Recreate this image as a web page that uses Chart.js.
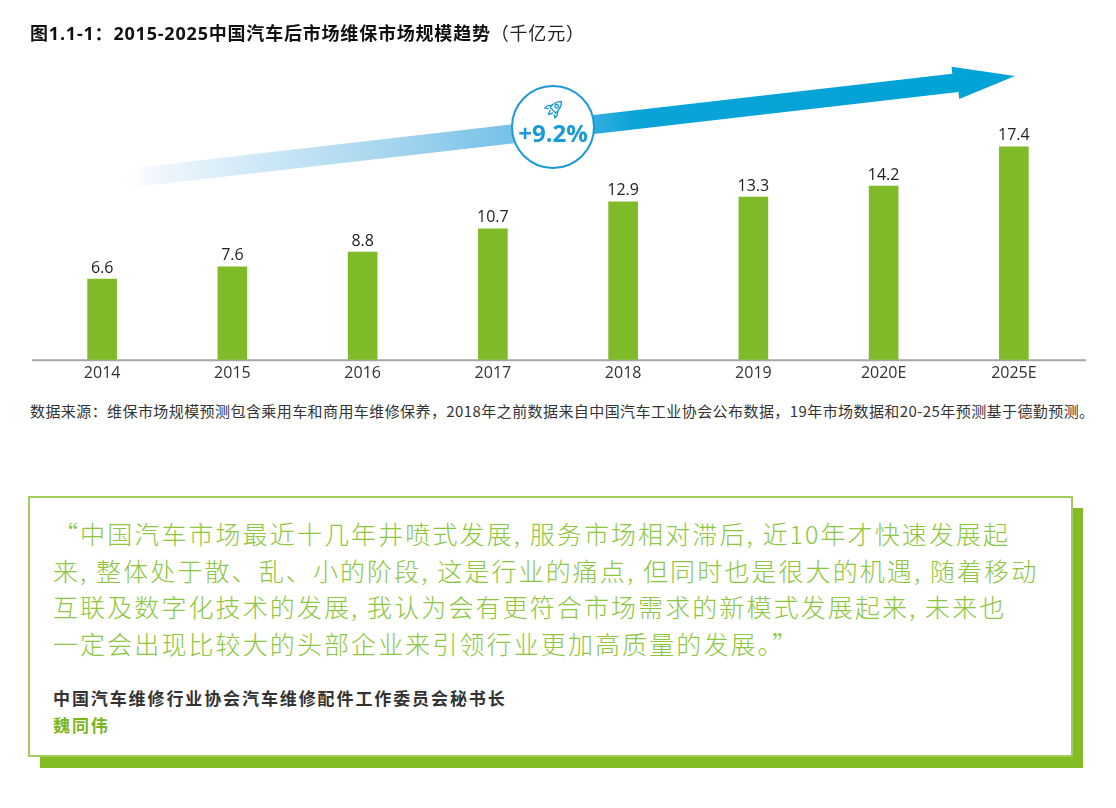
<!DOCTYPE html>
<html>
<head>
<meta charset="utf-8">
<script src="https://cdn.jsdelivr.net/npm/chart.js@4.4.1/dist/chart.umd.min.js"></script>
<style>
  body { margin: 0; background: #fff; width: 1116px; height: 808px; position: relative; overflow: hidden; font-family: 'Noto Sans CJK SC', 'Open Sans', sans-serif; }
  #wrap { position: absolute; left: 0; top: 0; width: 1116px; height: 400px; }
  #title { position: absolute; left: 30px; top: 19px; font-size: 18px; font-weight: bold; letter-spacing: 0.8px; color: #111; z-index: 2; white-space: nowrap; font-family: 'Open Sans', 'Noto Sans CJK SC', sans-serif; }
  #title span { font-weight: normal; color: #222; }
  #source { position: absolute; left: 30px; top: 400px; font-size: 15px; color: #333; letter-spacing: 0.42px; white-space: nowrap; line-height: 22px; }
  #shadow { position: absolute; left: 40px; top: 508px; width: 1043px; height: 260px; background: #84bc26; }
  #box { position: absolute; left: 28px; top: 496px; width: 1041px; height: 257px; background: #fff; border: 2px solid #a3cd5e; }
  #quote { position: absolute; left: 53px; top: 515px; font-size: 25px; font-weight: 300; letter-spacing: 2.1px; line-height: 36.5px; color: #8dc63f; white-space: nowrap; }
  #who { position: absolute; left: 53px; top: 684px; font-size: 17px; font-weight: bold; letter-spacing: 1.9px; line-height: 27px; color: #333; white-space: nowrap; }
  #who .name { color: #7ab51d; }
</style>
</head>
<body>
<div id="title">图1.1-1：2015-2025中国汽车后市场维保市场规模趋势<span>（千亿元）</span></div>
<div id="wrap"><canvas id="market_chart"></canvas></div>
<div id="source">数据来源：维保市场规模预测包含乘用车和商用车维修保养，2018年之前数据来自中国汽车工业协会公布数据，19年市场数据和20-25年预测基于德勤预测。</div>
<div id="shadow"></div>
<div id="box"></div>
<div id="quote">“中国汽车市场最近十几年井喷式发展, 服务市场相对滞后, 近10年才快速发展起<br>来, 整体处于散、乱、小的阶段, 这是行业的痛点, 但同时也是很大的机遇, 随着移动<br>互联及数字化技术的发展, 我认为会有更符合市场需求的新模式发展起来, 未来也<br>一定会出现比较大的头部企业来引领行业更加高质量的发展。”</div>
<div id="who">中国汽车维修行业协会汽车维修配件工作委员会秘书长<br><span class="name">魏同伟</span></div>
<script>
var years = ['2014', '2015', '2016', '2017', '2018', '2019', '2020E', '2025E'];
var market_size = [6.6, 7.6, 8.8, 10.7, 12.9, 13.3, 14.2, 17.4];
var growth_label = '+9.2%';

// trend arrow, growth badge, baseline and value labels
var decor = {
    id: 'decor',
    beforeDatasetsDraw: function(chart) {
        var ctx = chart.ctx;
        var area = chart.chartArea;

        // baseline
        ctx.save();
        ctx.strokeStyle = '#a6a6a6';
        ctx.lineWidth = 2;
        ctx.beginPath();
        ctx.moveTo(area.left - 5, area.bottom + 0.5);
        ctx.lineTo(area.right + 7, area.bottom + 0.5);
        ctx.stroke();
        ctx.restore();

        // arrow
        var x0 = 112, y0 = 180, x1 = 1015, y1 = 76;
        var len = Math.sqrt((x1 - x0) * (x1 - x0) + (y1 - y0) * (y1 - y0));
        var ang = Math.atan2(y1 - y0, x1 - x0);
        var c = Math.cos(ang), s = Math.sin(ang);
        var grad = ctx.createLinearGradient(x0, 0, x1, 0);
        grad.addColorStop(0, 'rgba(255,255,255,0)');
        grad.addColorStop(0.05, 'rgba(240,247,253,1)');
        grad.addColorStop(0.3, '#a8d6ef');
        grad.addColorStop(0.46, '#6fbfe7');
        grad.addColorStop(0.58, '#0aa3d8');
        grad.addColorStop(1, '#00a3d6');
        var pts = [[0, -9.5], [len - 62, -9.5], [len - 62, -16.5], [len, 0], [len - 58, 16.5], [len - 58, 9.5], [0, 9.5]];
        ctx.save();
        ctx.fillStyle = grad;
        ctx.beginPath();
        pts.forEach(function(p, i) {
            var px = x0 + p[0] * c - p[1] * s;
            var py = y0 + p[0] * s + p[1] * c;
            if (i === 0) ctx.moveTo(px, py); else ctx.lineTo(px, py);
        });
        ctx.closePath();
        ctx.fill();
        ctx.restore();

        // badge
        var bx = 553, by = 127;
        ctx.save();
        ctx.fillStyle = '#ffffff';
        ctx.strokeStyle = '#1a9ad6';
        ctx.lineWidth = 2;
        ctx.beginPath();
        ctx.arc(bx, by, 41, 0, Math.PI * 2);
        ctx.fill();
        ctx.stroke();
        ctx.fillStyle = '#1a9ad6';
        ctx.font = 'bold 24px "Open Sans"';
        ctx.textAlign = 'center';
        ctx.textBaseline = 'middle';
        ctx.fillText(growth_label, bx, by + 8);

        // rocket icon
        ctx.translate(bx + 2, by - 19);
        ctx.rotate(Math.PI / 4);
        ctx.lineWidth = 1.4;
        ctx.beginPath();
        ctx.moveTo(0, -9);
        ctx.quadraticCurveTo(4.5, -5, 4, 3);
        ctx.lineTo(-4, 3);
        ctx.quadraticCurveTo(-4.5, -5, 0, -9);
        ctx.closePath();
        ctx.stroke();
        ctx.beginPath();
        ctx.moveTo(4, 0);
        ctx.lineTo(7, 4);
        ctx.lineTo(7, 7);
        ctx.lineTo(4, 5);
        ctx.moveTo(-4, 0);
        ctx.lineTo(-7, 4);
        ctx.lineTo(-7, 7);
        ctx.lineTo(-4, 5);
        ctx.moveTo(-2, 5);
        ctx.lineTo(0, 9);
        ctx.lineTo(2, 5);
        ctx.stroke();
        ctx.beginPath();
        ctx.arc(0, -2.5, 1.8, 0, Math.PI * 2);
        ctx.stroke();
        ctx.restore();
    },
    afterDatasetsDraw: function(chart) {
        var ctx = chart.ctx;
        var meta = chart.getDatasetMeta(0);
        ctx.save();
        ctx.fillStyle = '#222';
        ctx.font = '16px "Open Sans"';
        ctx.textAlign = 'center';
        ctx.textBaseline = 'bottom';
        meta.data.forEach(function(bar, i) {
            ctx.fillText(market_size[i].toFixed(1), bar.x, bar.y - 3);
        });
        ctx.restore();
    }
};

var market_chart = new Chart(document.getElementById('market_chart'), {
    type: 'bar',
    data: {
        labels: years,
        datasets: [{
            data: market_size,
            backgroundColor: '#7fbb28',
            barThickness: 29
        }]
    },
    options: {
        responsive: true,
        maintainAspectRatio: false,
        animation: false,
        layout: {
            padding: { left: 37, right: 37, top: 66, bottom: 21 }
        },
        plugins: {
            legend: { display: false },
            tooltip: { enabled: false }
        },
        scales: {
            x: {
                grid: { display: false },
                border: { display: false },
                ticks: {
                    color: '#333',
                    padding: -4,
                    font: { family: 'Open Sans', size: 16 }
                }
            },
            y: {
                display: false,
                min: 0,
                max: 24
            }
        }
    },
    plugins: [decor]
});
</script>
</body>
</html>
